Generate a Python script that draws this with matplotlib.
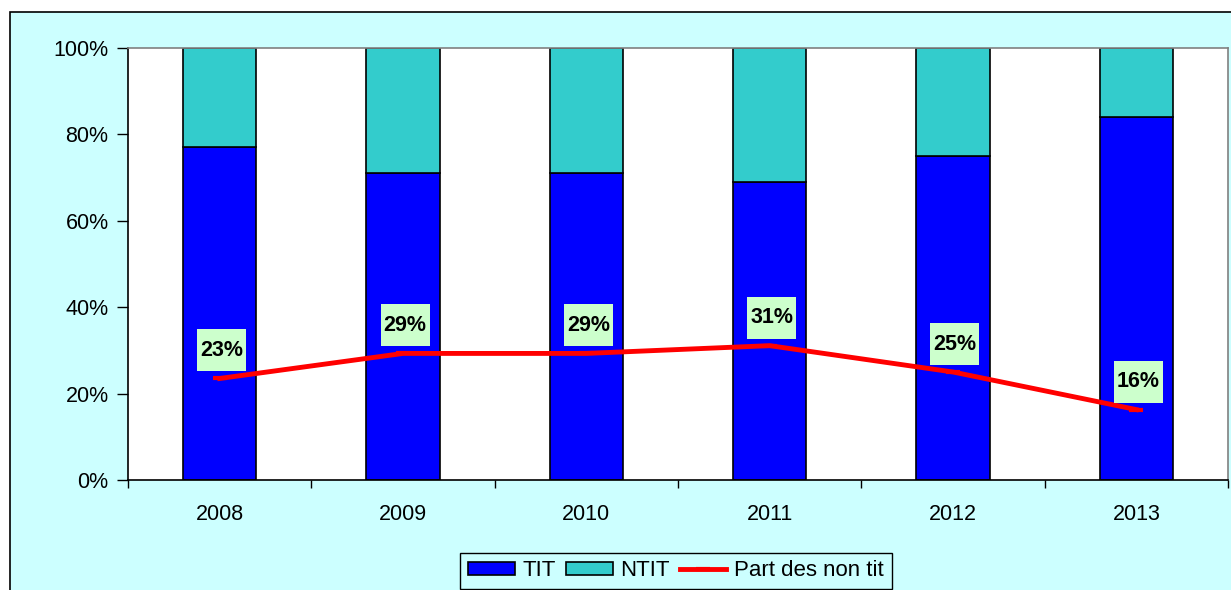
import matplotlib
matplotlib.use('Agg')
import matplotlib.pyplot as plt
from matplotlib.patches import Rectangle
from matplotlib.transforms import Affine2D, ScaledTranslation
from matplotlib.ticker import FixedLocator, PercentFormatter

years = ["2008", "2009", "2010", "2011", "2012", "2013"]
tit = [0.77, 0.71, 0.71, 0.69, 0.75, 0.84]
ntit = [0.23, 0.29, 0.29, 0.31, 0.25, 0.16]
part_non_tit = [0.235, 0.293, 0.293, 0.311, 0.25, 0.163]
part_labels = ["23%", "29%", "29%", "31%", "25%", "16%"]

plt.rcParams['font.family'] = ['Liberation Sans', 'DejaVu Sans']

fig = plt.figure(figsize=(12.31, 5.90), dpi=100)
fig.patch.set_facecolor('white')
# outer chart area
fig.patches.append(Rectangle((10 / 1231, -0.01), 1.0, 1 - 12 / 590 + 0.01,
                             transform=fig.transFigure, facecolor='#CCFFFF',
                             edgecolor='black', linewidth=1.2, zorder=-10))

ax = fig.add_axes([128 / 1231, 1 - 480 / 590, 1100 / 1231, 432 / 590])
ax.set_facecolor('white')

x = range(len(years))
b1 = ax.bar(x, tit, width=0.4, color='#0000FF', edgecolor='black', linewidth=1.2, zorder=2)
b2 = ax.bar(x, ntit, width=0.4, bottom=tit, color='#33CCCC', edgecolor='black', linewidth=1.2,
            zorder=2)
ln, = ax.plot(x, part_non_tit, color='#FF0000', linewidth=3.5, marker='_', markersize=10,
              markeredgewidth=3, zorder=3)

# data labels: light green boxes above each point (box size in pixels)
for xi, yi, lab in zip(x, part_non_tit, part_labels):
    tr = Affine2D() + ScaledTranslation(xi, yi, ax.transData)
    ax.add_patch(Rectangle((2 - 24.5, 28 - 21), 49, 42, transform=tr,
                           facecolor='#CCFFCC', edgecolor='none', zorder=4, clip_on=False))
    ax.annotate(lab, (xi, yi), xytext=(2 * 0.72, 28 * 0.72), textcoords='offset points',
                ha='center', va='center', fontsize=15.5, fontweight='bold', zorder=5)

ax.set_xlim(-0.5, len(years) - 0.5)
ax.set_ylim(0, 1)
ax.yaxis.set_major_locator(FixedLocator([0, 0.2, 0.4, 0.6, 0.8, 1.0]))
ax.yaxis.set_major_formatter(PercentFormatter(1.0, decimals=0))
ax.set_xticks(list(x))
ax.set_xticklabels(years)
ax.xaxis.set_minor_locator(FixedLocator([i - 0.5 for i in range(len(years) + 1)]))
ax.tick_params(axis='x', which='major', length=0, pad=17, labelsize=15.5)
ax.tick_params(axis='x', which='minor', length=6, direction='out', width=1)
ax.tick_params(axis='y', length=8, width=1, labelsize=15.5, pad=6)

for side in ['left', 'bottom']:
    ax.spines[side].set_color('black')
    ax.spines[side].set_linewidth(1.2)
for side in ['top', 'right']:
    ax.spines[side].set_color('#808080')
    ax.spines[side].set_linewidth(1.2)

leg = fig.legend([b1, b2, ln], ['TIT', 'NTIT', 'Part des non tit'],
                 loc='center', bbox_to_anchor=(676 / 1231, 1 - 571 / 590), ncol=3,
                 fontsize=16, frameon=True, fancybox=False, handlelength=2.1,
                 handleheight=0.5, handletextpad=0.35, columnspacing=0.45,
                 borderpad=0.35, borderaxespad=0)
leg.get_frame().set_edgecolor('black')
leg.get_frame().set_facecolor('#CCFFFF')
leg.get_frame().set_linewidth(1.0)
leg.get_frame().set_alpha(1)

fig.savefig('out.png', dpi=100)
